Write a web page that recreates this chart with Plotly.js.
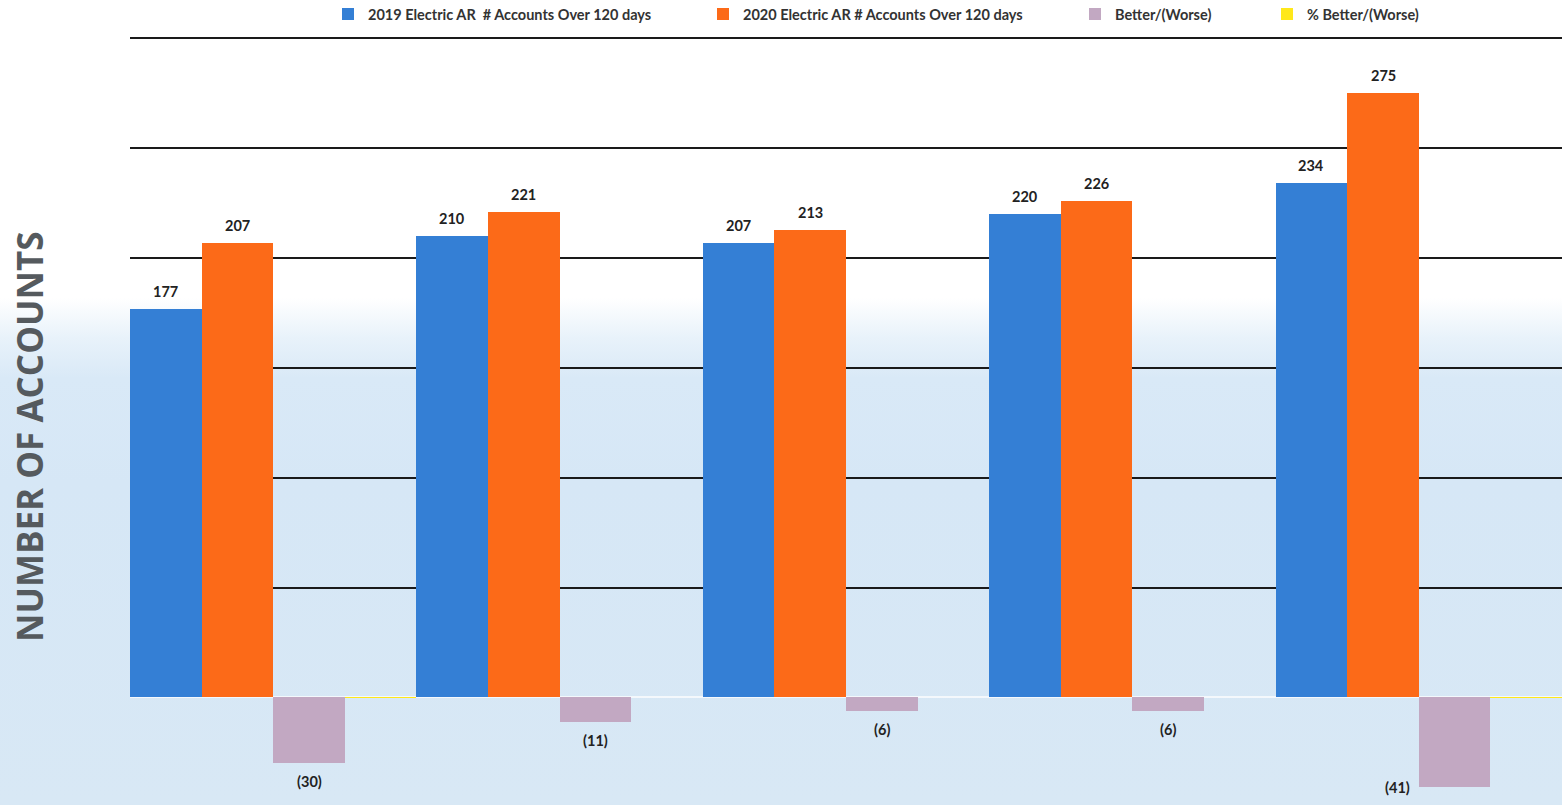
<!DOCTYPE html>
<html>
<head>
<meta charset="utf-8">
<script src="https://cdn.plot.ly/plotly-3.0.1.min.js"></script>
<style>
  html, body { margin: 0; padding: 0; }
  body {
    width: 1562px; height: 805px; overflow: hidden;
    background: linear-gradient(to bottom, #ffffff 0%, #ffffff 37%, #e8f2fa 42%, #d9e9f7 47%, #d6e7f6 60%, #d8e8f5 100%);
  }
  #chart { width: 1562px; height: 805px; }
</style>
</head>
<body>
<div id="chart"></div>
<script>
// Electric AR accounts over 120 days, by period
const periods = ['P1', 'P2', 'P3', 'P4', 'P5'];
const accounts2019 = [177, 210, 207, 220, 234];
const accounts2020 = [207, 221, 213, 226, 275];
const betterWorse = [-30, -11, -6, -6, -41];
const pctBetterWorse = [-0.17, -0.05, -0.03, -0.03, -0.18];

const seriesNames = [
  '2019 Electric AR  # Accounts Over 120 days',
  '2020 Electric AR # Accounts Over 120 days',
  'Better/(Worse)',
  '% Better/(Worse)'
];
const seriesColors = ['#347fd5', '#fc6a18', '#c2a8c2', '#ffe81a'];
// left edge of each legend entry, in pixels across the page
const legendLeftPx = [328, 703, 1075, 1267];

const fmt = v => v < 0 ? '(' + (-v) + ')' : String(v);
const labelFont = { family: 'Lato, "Open Sans", sans-serif', size: 14.5, color: '#222222', weight: 'bold' };
const legendFont = { family: 'Lato, "Open Sans", sans-serif', size: 14.5, color: '#333333', weight: 'bold' };

const W = 1562, H = 805;
const marginL = 130, marginT = 34;
const plotW = W - marginL, plotH = H - marginT;
const legendKeys = ['legend', 'legend2', 'legend3', 'legend4'];

function barTrace(i, values) {
  return {
    type: 'bar',
    name: seriesNames[i],
    legend: legendKeys[i],
    x: periods,
    y: values,
    marker: { color: seriesColors[i], line: { width: 0 } },
    hoverinfo: 'x+y'
  };
}

const data = [
  barTrace(0, accounts2019),
  barTrace(1, accounts2020),
  barTrace(2, betterWorse),
  barTrace(3, pctBetterWorse)
];

// value labels: one per bar, offset sideways to its slot within the group
const barPx = plotW / periods.length / 4;
const slotShift = [-1.5, -0.5, 0.5, 1.5].map(k => k * barPx);
const annotations = [];
[accounts2019, accounts2020, betterWorse].forEach((values, s) => {
  values.forEach((v, j) => {
    const last = (s === 2 && j === values.length - 1);
    annotations.push({
      x: periods[j], y: v, xref: 'x', yref: 'y',
      text: fmt(v),
      showarrow: false,
      font: labelFont,
      xshift: slotShift[s] + (last ? -57 : 0),
      xanchor: 'center',
      yanchor: last ? 'middle' : (v < 0 ? 'top' : 'bottom'),
      yshift: last ? 0 : (v < 0 ? -8 : 7)
    });
  });
});

// vertical axis title
annotations.push({
  text: 'NUMBER OF ACCOUNTS',
  xref: 'paper', yref: 'paper',
  x: (30 - marginL) / plotW, y: (H - 437) / plotH,
  xanchor: 'center', yanchor: 'middle',
  textangle: -90,
  showarrow: false,
  font: { family: '"Open Sans", sans-serif', size: 35, color: '#555a5e', weight: 'bold' }
});

const layout = {
  width: W,
  height: H,
  margin: { l: marginL, r: 0, t: marginT, b: 0, autoexpand: false },
  paper_bgcolor: 'rgba(0,0,0,0)',
  plot_bgcolor: 'rgba(0,0,0,0)',
  barmode: 'group',
  bargap: 0,
  bargroupgap: 0,
  showlegend: true,
  annotations: annotations,
  xaxis: {
    showticklabels: false,
    showgrid: false,
    zeroline: false,
    showline: false,
    ticks: ''
  },
  yaxis: {
    range: [-49, 302],
    dtick: 50,
    tick0: 0,
    showticklabels: false,
    showgrid: true,
    gridcolor: '#1a1a1a',
    gridwidth: 2,
    zeroline: true,
    zerolinecolor: '#f4f8fc',
    zerolinewidth: 2,
    showline: false,
    ticks: ''
  }
};

legendKeys.forEach((key, i) => {
  layout[key] = {
    orientation: 'h',
    x: (legendLeftPx[i] - marginL) / plotW,
    xanchor: 'left',
    y: 1.005, yanchor: 'bottom',
    font: legendFont,
    itemwidth: 30,
    bgcolor: 'rgba(0,0,0,0)'
  };
});

Plotly.newPlot('chart', data, layout, { displayModeBar: false, staticPlot: true });
</script>
</body>
</html>
